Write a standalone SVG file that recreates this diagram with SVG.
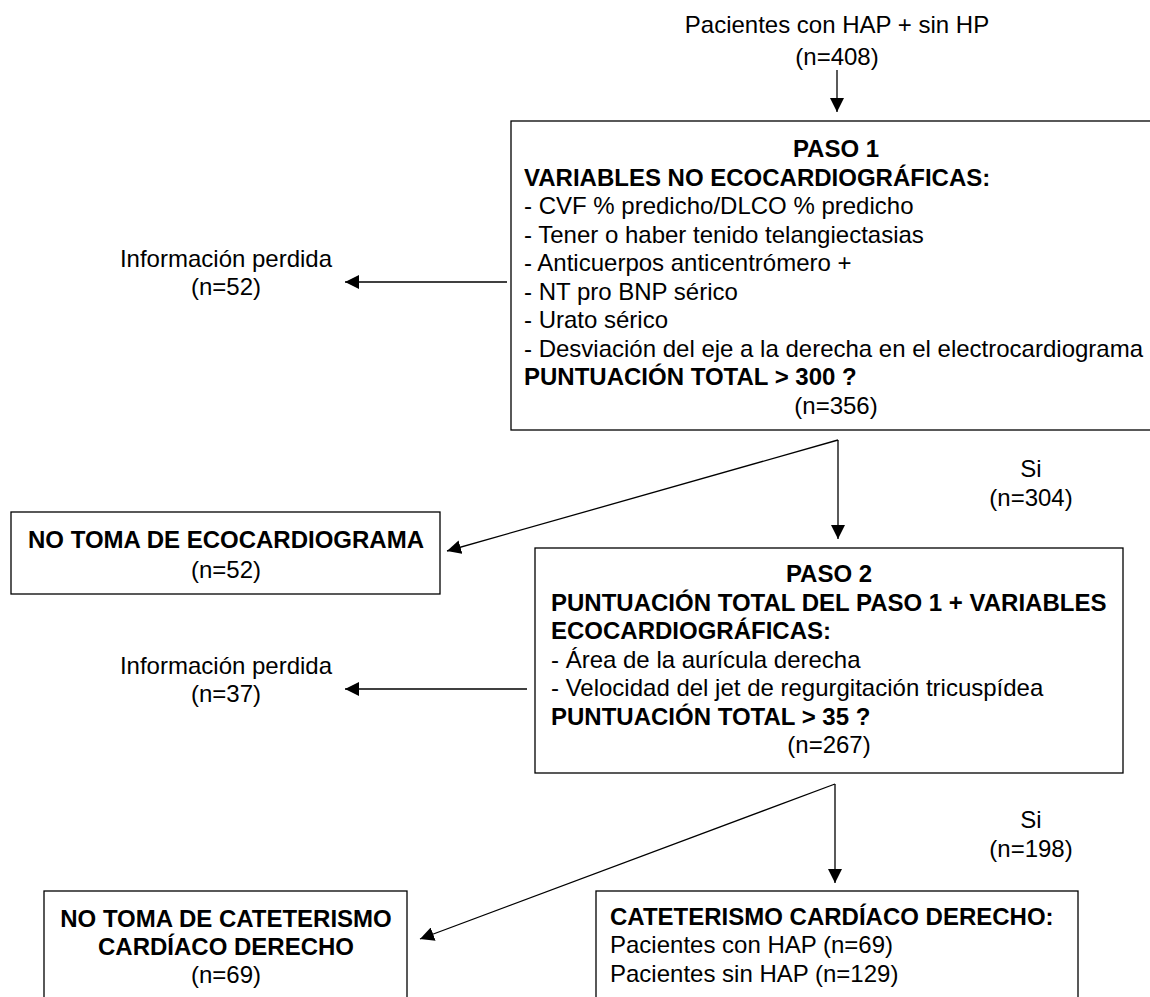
<svg xmlns="http://www.w3.org/2000/svg" width="1150" height="997" viewBox="0 0 1150 997">
<defs>
<style>
text{font-family:"Liberation Sans",Arial,sans-serif;font-size:24px;fill:#000}
.b{font-weight:bold}
.c{text-anchor:middle}
.box{fill:#fff;stroke:#000;stroke-width:1.3}
.ln{fill:none;stroke:#000;stroke-width:1.3}
</style>
<marker id="ah" markerUnits="userSpaceOnUse" markerWidth="16" markerHeight="14" refX="14" refY="7" orient="auto">
<path d="M0,0 L14,7 L0,14 Z" fill="#000"/>
</marker>
</defs>
<rect width="1150" height="997" fill="#fff"/>
<g id="connectors">
<line class="ln" x1="837" y1="70" x2="837" y2="112" marker-end="url(#ah)"/>
<line class="ln" x1="507" y1="282" x2="345" y2="282" marker-end="url(#ah)"/>
<line class="ln" x1="838" y1="440" x2="838" y2="539" marker-end="url(#ah)"/>
<line class="ln" x1="838" y1="440" x2="447" y2="551" marker-end="url(#ah)"/>
<line class="ln" x1="527" y1="689" x2="345" y2="689" marker-end="url(#ah)"/>
<line class="ln" x1="835" y1="784" x2="835" y2="883" marker-end="url(#ah)"/>
<line class="ln" x1="835" y1="784" x2="420" y2="939" marker-end="url(#ah)"/>
</g>
<g id="start">
<text class="c" x="837" y="33">Pacientes con HAP + sin HP</text>
<text class="c" x="837" y="65">(n=408)</text>
</g>
<g id="paso1">
<rect class="box" x="511" y="121" width="645" height="309"/>
<text class="b c" x="836" y="157">PASO 1</text>
<text class="b" x="524" y="185.5">VARIABLES NO ECOCARDIOGRÁFICAS:</text>
<text x="524" y="214">- CVF % predicho/DLCO % predicho</text>
<text x="524" y="242.5">- Tener o haber tenido telangiectasias</text>
<text x="524" y="271">- Anticuerpos anticentrómero +</text>
<text x="524" y="299.5">- NT pro BNP sérico</text>
<text x="524" y="328">- Urato sérico</text>
<text x="524" y="356.5">- Desviación del eje a la derecha en el electrocardiograma</text>
<text class="b" x="524" y="385">PUNTUACIÓN TOTAL &gt; 300 ?</text>
<text class="c" x="836" y="413.5">(n=356)</text>
</g>
<g id="perdida1">
<text class="c" x="226" y="267">Información perdida</text>
<text class="c" x="226" y="295">(n=52)</text>
</g>
<g id="si1">
<text class="c" x="1031" y="477">Si</text>
<text class="c" x="1031" y="506">(n=304)</text>
</g>
<g id="noeco">
<rect class="box" x="11" y="512" width="429" height="82"/>
<text class="b c" x="226" y="548">NO TOMA DE ECOCARDIOGRAMA</text>
<text class="c" x="226" y="578">(n=52)</text>
</g>
<g id="paso2">
<rect class="box" x="535" y="548" width="588" height="225"/>
<text class="b c" x="829" y="582">PASO 2</text>
<text class="b" x="551" y="610.5">PUNTUACIÓN TOTAL DEL PASO 1 + VARIABLES</text>
<text class="b" x="551" y="639">ECOCARDIOGRÁFICAS:</text>
<text x="551" y="667.5">- Área de la aurícula derecha</text>
<text x="551" y="696">- Velocidad del jet de regurgitación tricuspídea</text>
<text class="b" x="551" y="724.5">PUNTUACIÓN TOTAL &gt; 35 ?</text>
<text class="c" x="829" y="753">(n=267)</text>
</g>
<g id="perdida2">
<text class="c" x="226" y="674">Información perdida</text>
<text class="c" x="226" y="702">(n=37)</text>
</g>
<g id="si2">
<text class="c" x="1031" y="828">Si</text>
<text class="c" x="1031" y="857">(n=198)</text>
</g>
<g id="nocat">
<rect class="box" x="44" y="891" width="363" height="120"/>
<text class="b c" x="226" y="927">NO TOMA DE CATETERISMO</text>
<text class="b c" x="226" y="955">CARDÍACO DERECHO</text>
<text class="c" x="226" y="983">(n=69)</text>
</g>
<g id="cat">
<rect class="box" x="596" y="891" width="482" height="120"/>
<text class="b" x="610" y="925">CATETERISMO CARDÍACO DERECHO:</text>
<text x="610" y="953">Pacientes con HAP (n=69)</text>
<text x="610" y="982">Pacientes sin HAP (n=129)</text>
</g>
</svg>
